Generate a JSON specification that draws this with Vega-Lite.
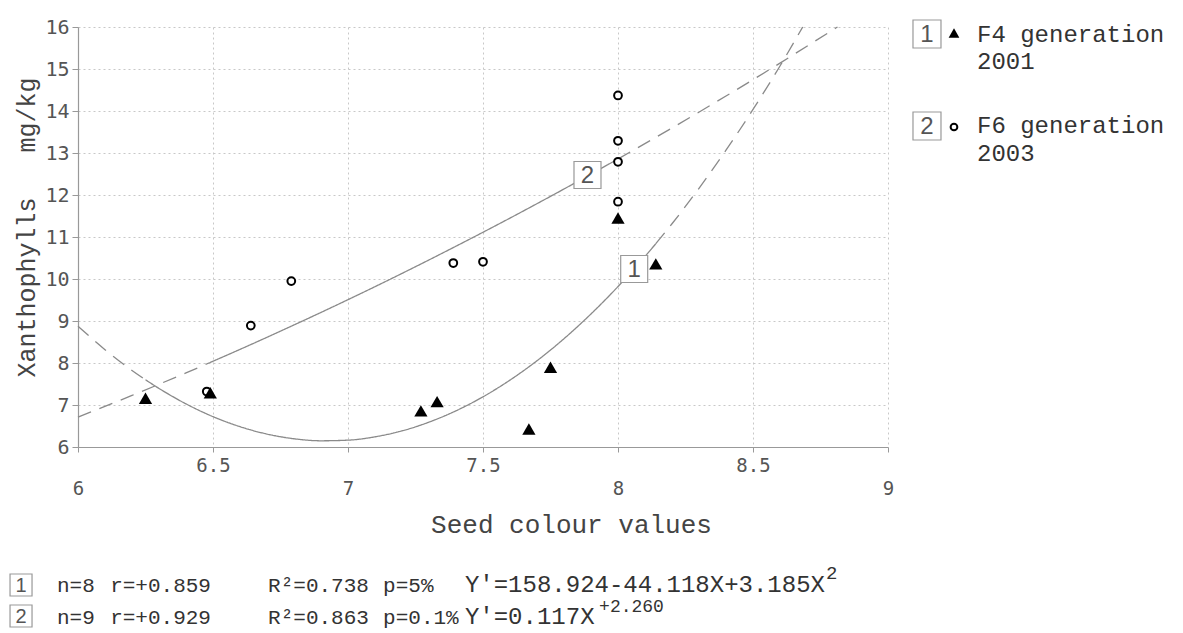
{
  "$schema": "https://vega.github.io/schema/vega-lite/v6.json",
  "width": 810,
  "height": 420,
  "autosize": {"type": "none"},
  "padding": {"left": 78, "top": 27, "right": 295, "bottom": 186},
  "background": "white",
  "config": {"view": {"stroke": null}, "font": "Liberation Mono", "text": {"font": "Liberation Mono"}},
  "datasets": {
    "points": [
      {"gen": "F4", "x": 6.25, "y": 7.16},
      {"gen": "F4", "x": 6.49, "y": 7.29},
      {"gen": "F4", "x": 7.27, "y": 6.86},
      {"gen": "F4", "x": 7.33, "y": 7.08},
      {"gen": "F4", "x": 7.67, "y": 6.43},
      {"gen": "F4", "x": 7.75, "y": 7.9},
      {"gen": "F4", "x": 8.0, "y": 11.45},
      {"gen": "F4", "x": 8.14, "y": 10.36},
      {"gen": "F6", "x": 6.477, "y": 7.32},
      {"gen": "F6", "x": 6.64, "y": 8.89},
      {"gen": "F6", "x": 6.79, "y": 9.95},
      {"gen": "F6", "x": 7.39, "y": 10.38},
      {"gen": "F6", "x": 7.5, "y": 10.41},
      {"gen": "F6", "x": 8.0, "y": 11.84},
      {"gen": "F6", "x": 8.0, "y": 12.79},
      {"gen": "F6", "x": 8.0, "y": 13.29},
      {"gen": "F6", "x": 8.0, "y": 14.37}
    ],
    "curves": [
      {"seg": "1a", "style": "dashed", "x": 6.0, "y": 8.876},
      {"seg": "1a", "style": "dashed", "x": 6.1, "y": 8.318},
      {"seg": "1a", "style": "dashed", "x": 6.2, "y": 7.823},
      {"seg": "1a", "style": "dashed", "x": 6.25, "y": 7.6005},
      {"seg": "1b", "style": "solid", "x": 6.25, "y": 7.6005},
      {"seg": "1b", "style": "solid", "x": 6.3, "y": 7.394},
      {"seg": "1b", "style": "solid", "x": 6.4, "y": 7.027},
      {"seg": "1b", "style": "solid", "x": 6.5, "y": 6.723},
      {"seg": "1b", "style": "solid", "x": 6.6, "y": 6.484},
      {"seg": "1b", "style": "solid", "x": 6.7, "y": 6.308},
      {"seg": "1b", "style": "solid", "x": 6.8, "y": 6.196},
      {"seg": "1b", "style": "solid", "x": 6.9, "y": 6.148},
      {"seg": "1b", "style": "solid", "x": 7.0, "y": 6.163},
      {"seg": "1b", "style": "solid", "x": 7.1, "y": 6.242},
      {"seg": "1b", "style": "solid", "x": 7.2, "y": 6.384},
      {"seg": "1b", "style": "solid", "x": 7.3, "y": 6.592},
      {"seg": "1b", "style": "solid", "x": 7.4, "y": 6.862},
      {"seg": "1b", "style": "solid", "x": 7.5, "y": 7.195},
      {"seg": "1b", "style": "solid", "x": 7.6, "y": 7.593},
      {"seg": "1b", "style": "solid", "x": 7.7, "y": 8.054},
      {"seg": "1b", "style": "solid", "x": 7.8, "y": 8.579},
      {"seg": "1b", "style": "solid", "x": 7.9, "y": 9.168},
      {"seg": "1b", "style": "solid", "x": 8.0, "y": 9.82},
      {"seg": "1b", "style": "solid", "x": 8.1, "y": 10.536},
      {"seg": "1b", "style": "solid", "x": 8.14, "y": 10.84},
      {"seg": "1c", "style": "dashed", "x": 8.14, "y": 10.84},
      {"seg": "1c", "style": "dashed", "x": 8.2, "y": 11.315},
      {"seg": "1c", "style": "dashed", "x": 8.3, "y": 12.16},
      {"seg": "1c", "style": "dashed", "x": 8.4, "y": 13.067},
      {"seg": "1c", "style": "dashed", "x": 8.5, "y": 14.037},
      {"seg": "1c", "style": "dashed", "x": 8.6, "y": 15.072},
      {"seg": "1c", "style": "dashed", "x": 8.684, "y": 16.0},
      {"seg": "2a", "style": "dashed", "x": 6.0, "y": 6.711},
      {"seg": "2a", "style": "dashed", "x": 6.2, "y": 7.228},
      {"seg": "2a", "style": "dashed", "x": 6.4, "y": 7.765},
      {"seg": "2a", "style": "dashed", "x": 6.477, "y": 7.978},
      {"seg": "2b", "style": "solid", "x": 6.477, "y": 7.978},
      {"seg": "2b", "style": "solid", "x": 6.6, "y": 8.324},
      {"seg": "2b", "style": "solid", "x": 6.8, "y": 8.906},
      {"seg": "2b", "style": "solid", "x": 7.0, "y": 9.508},
      {"seg": "2b", "style": "solid", "x": 7.2, "y": 10.133},
      {"seg": "2b", "style": "solid", "x": 7.4, "y": 10.781},
      {"seg": "2b", "style": "solid", "x": 7.6, "y": 11.45},
      {"seg": "2b", "style": "solid", "x": 7.8, "y": 12.143},
      {"seg": "2b", "style": "solid", "x": 8.0, "y": 12.858},
      {"seg": "2c", "style": "dashed", "x": 8.0, "y": 12.858},
      {"seg": "2c", "style": "dashed", "x": 8.2, "y": 13.596},
      {"seg": "2c", "style": "dashed", "x": 8.4, "y": 14.357},
      {"seg": "2c", "style": "dashed", "x": 8.6, "y": 15.141},
      {"seg": "2c", "style": "dashed", "x": 8.8, "y": 15.948},
      {"seg": "2c", "style": "dashed", "x": 8.813, "y": 16.0}
    ],
    "series": [
      {"series": "1", "label": "F4 generation", "year": "2001", "n": "n=8", "r": "r=+0.859", "R2": "R²=0.738", "p": "p=5%", "eq": "Y'=158.924-44.118X+3.185X", "sup": "2"},
      {"series": "2", "label": "F6 generation", "year": "2003", "n": "n=9", "r": "r=+0.929", "R2": "R²=0.863", "p": "p=0.1%", "eq": "Y'=0.117X", "sup": "+2.260"}
    ]
  },
  "layer": [
    {
      "data": {"name": "curves"},
      "mark": {"type": "line", "stroke": "#8a8a8a", "strokeWidth": 1.3, "interpolate": "monotone"},
      "encoding": {
        "x": {
          "field": "x", "type": "quantitative",
          "scale": {"domain": [6, 9], "nice": false, "zero": false},
          "axis": {
            "title": "Seed colour values",
            "values": [6, 6.5, 7, 7.5, 8, 8.5, 9],
            "format": "~g",
            "labelExpr": "datum.value % 1 === 0 ? ['', datum.label] : datum.label",
            "labelLineHeight": 23,
            "labelFont": "DejaVu Sans Mono", "labelFontSize": 19, "labelColor": "#555",
            "labelPadding": 4, "labelBaseline": "top", "labelFlush": false, "labelOverlap": false, "labelBound": false,
            "tickSize": 5, "tickColor": "#999", "domainColor": "#999", "domainWidth": 1.2,
            "grid": true, "gridColor": "#c8c8c8", "gridDash": [2, 3], "gridWidth": 1,
            "titleFont": "Liberation Mono", "titleFontSize": 26, "titleFontWeight": "normal", "titleColor": "#444",
            "titleX": 493, "titleY": 85, "titleAlign": "center", "titleBaseline": "alphabetic"
          }
        },
        "y": {
          "field": "y", "type": "quantitative",
          "scale": {"domain": [6, 16], "nice": false, "zero": false},
          "axis": {
            "title": "Xanthophylls\u00a0\u00a0\u00a0mg/kg",
            "values": [6, 7, 8, 9, 10, 11, 12, 13, 14, 15, 16],
            "labelFont": "DejaVu Sans Mono", "labelFontSize": 20, "labelColor": "#555",
            "labelPadding": 3, "tickSize": 6, "tickColor": "#999", "domainColor": "#999", "domainWidth": 1.2,
            "grid": true, "gridColor": "#c8c8c8", "gridDash": [2, 3], "gridWidth": 1,
            "titleFont": "Liberation Mono", "titleFontSize": 25, "titleFontWeight": "normal", "titleColor": "#444",
            "titleX": -52, "titleY": 200, "titleAngle": 270, "titleAlign": "center", "titleBaseline": "middle"
          }
        },
        "detail": {"field": "seg"},
        "strokeDash": {"field": "style", "type": "nominal", "scale": {"domain": ["solid", "dashed"], "range": [[1, 0], [14, 9]]}, "legend": null}
      }
    },
    {
      "data": {"name": "series"},
      "transform": [{"filter": "datum.series === '2'"}],
      "encoding": {"x": {"datum": 7.887}, "y": {"datum": 12.476}},
      "layer": [
        {"mark": {"type": "square", "size": 729, "fill": "white", "stroke": "#999", "strokeWidth": 1.2, "opacity": 1}},
        {"mark": {"type": "text", "font": "Liberation Sans", "fontSize": 24, "color": "#555", "align": "center", "baseline": "middle", "dy": 1}, "encoding": {"text": {"field": "series"}}}
      ]
    },
    {
      "data": {"name": "series"},
      "transform": [{"filter": "datum.series === '1'"}],
      "encoding": {"x": {"datum": 8.06}, "y": {"datum": 10.238}},
      "layer": [
        {"mark": {"type": "square", "size": 729, "fill": "white", "stroke": "#999", "strokeWidth": 1.2, "opacity": 1}},
        {"mark": {"type": "text", "font": "Liberation Sans", "fontSize": 24, "color": "#555", "align": "center", "baseline": "middle", "dy": 1}, "encoding": {"text": {"field": "series"}}}
      ]
    },
    {
      "data": {"name": "points"},
      "transform": [{"filter": "datum.gen === 'F6'"}],
      "mark": {"type": "point", "shape": "circle", "filled": false, "fill": "white", "stroke": "black", "strokeWidth": 2, "size": 60, "opacity": 1},
      "encoding": {"x": {"field": "x", "type": "quantitative"}, "y": {"field": "y", "type": "quantitative"}}
    },
    {
      "data": {"name": "points"},
      "transform": [{"filter": "datum.gen === 'F4'"}],
      "mark": {"type": "point", "shape": "triangle-up", "filled": true, "color": "black", "size": 175, "opacity": 1},
      "encoding": {"x": {"field": "x", "type": "quantitative"}, "y": {"field": "y", "type": "quantitative"}}
    },
    {
      "data": {"name": "series"},
      "transform": [{"filter": "datum.series === '1'"}],
      "layer": [
        {"mark": {"type": "square", "size": 784, "fill": "white", "stroke": "#999", "strokeWidth": 1.2, "opacity": 1}, "encoding": {"x": {"datum": 9.1444}, "y": {"datum": 15.833}}},
        {"mark": {"type": "text", "font": "Liberation Sans", "fontSize": 24, "color": "#555", "align": "center", "baseline": "middle", "dy": 1}, "encoding": {"x": {"datum": 9.1444}, "y": {"datum": 15.833}, "text": {"field": "series"}}},
        {"mark": {"type": "point", "shape": "triangle-up", "filled": true, "color": "black", "size": 115, "opacity": 1}, "encoding": {"x": {"datum": 9.2444}, "y": {"datum": 15.857}}},
        {"mark": {"type": "text", "font": "Liberation Mono", "fontSize": 24, "color": "#333", "align": "left", "baseline": "alphabetic"}, "encoding": {"x": {"datum": 9.3296}, "y": {"datum": 15.643}, "text": {"field": "label"}}},
        {"mark": {"type": "text", "font": "Liberation Mono", "fontSize": 24, "color": "#333", "align": "left", "baseline": "alphabetic"}, "encoding": {"x": {"datum": 9.3296}, "y": {"datum": 15.0}, "text": {"field": "year"}}}
      ]
    },
    {
      "data": {"name": "series"},
      "transform": [{"filter": "datum.series === '2'"}],
      "layer": [
        {"mark": {"type": "square", "size": 784, "fill": "white", "stroke": "#999", "strokeWidth": 1.2, "opacity": 1}, "encoding": {"x": {"datum": 9.1444}, "y": {"datum": 13.643}}},
        {"mark": {"type": "text", "font": "Liberation Sans", "fontSize": 24, "color": "#555", "align": "center", "baseline": "middle", "dy": 1}, "encoding": {"x": {"datum": 9.1444}, "y": {"datum": 13.643}, "text": {"field": "series"}}},
        {"mark": {"type": "point", "shape": "circle", "filled": false, "fill": "white", "stroke": "black", "strokeWidth": 2, "size": 45, "opacity": 1}, "encoding": {"x": {"datum": 9.2444}, "y": {"datum": 13.619}}},
        {"mark": {"type": "text", "font": "Liberation Mono", "fontSize": 24, "color": "#333", "align": "left", "baseline": "alphabetic"}, "encoding": {"x": {"datum": 9.3296}, "y": {"datum": 13.476}, "text": {"field": "label"}}},
        {"mark": {"type": "text", "font": "Liberation Mono", "fontSize": 24, "color": "#333", "align": "left", "baseline": "alphabetic"}, "encoding": {"x": {"datum": 9.3296}, "y": {"datum": 12.81}, "text": {"field": "year"}}}
      ]
    },
    {
      "data": {"name": "series"},
      "transform": [{"filter": "datum.series === '1'"}],
      "encoding": {"y": {"datum": 2.548}},
      "layer": [
        {"mark": {"type": "square", "size": 484, "fill": "white", "stroke": "#999", "strokeWidth": 1.2, "opacity": 1}, "encoding": {"x": {"datum": 5.789}, "y": {"datum": 2.714}}},
        {"mark": {"type": "text", "font": "Liberation Sans", "fontSize": 20, "color": "#555", "align": "center", "baseline": "middle", "dy": 1}, "encoding": {"x": {"datum": 5.789}, "y": {"datum": 2.714}, "text": {"field": "series"}}},
        {"mark": {"type": "text", "font": "Liberation Mono", "fontSize": 21, "color": "#333", "align": "left", "baseline": "alphabetic"}, "encoding": {"x": {"datum": 5.922}, "text": {"field": "n"}}},
        {"mark": {"type": "text", "font": "Liberation Mono", "fontSize": 21, "color": "#333", "align": "left", "baseline": "alphabetic"}, "encoding": {"x": {"datum": 6.119}, "text": {"field": "r"}}},
        {"mark": {"type": "text", "font": "Liberation Mono", "fontSize": 21, "color": "#333", "align": "left", "baseline": "alphabetic"}, "encoding": {"x": {"datum": 6.704}, "text": {"field": "R2"}}},
        {"mark": {"type": "text", "font": "Liberation Mono", "fontSize": 21, "color": "#333", "align": "left", "baseline": "alphabetic"}, "encoding": {"x": {"datum": 7.13}, "text": {"field": "p"}}},
        {"mark": {"type": "text", "font": "Liberation Mono", "fontSize": 24, "color": "#333", "align": "left", "baseline": "alphabetic"}, "encoding": {"x": {"datum": 7.433}, "text": {"field": "eq"}}},
        {"mark": {"type": "text", "font": "Liberation Mono", "fontSize": 19, "color": "#333", "align": "left", "baseline": "alphabetic"}, "encoding": {"x": {"datum": 8.77}, "y": {"datum": 2.857}, "text": {"field": "sup"}}}
      ]
    },
    {
      "data": {"name": "series"},
      "transform": [{"filter": "datum.series === '2'"}],
      "encoding": {"y": {"datum": 1.786}},
      "layer": [
        {"mark": {"type": "square", "size": 484, "fill": "white", "stroke": "#999", "strokeWidth": 1.2, "opacity": 1}, "encoding": {"x": {"datum": 5.789}, "y": {"datum": 1.976}}},
        {"mark": {"type": "text", "font": "Liberation Sans", "fontSize": 20, "color": "#555", "align": "center", "baseline": "middle", "dy": 1}, "encoding": {"x": {"datum": 5.789}, "y": {"datum": 1.976}, "text": {"field": "series"}}},
        {"mark": {"type": "text", "font": "Liberation Mono", "fontSize": 21, "color": "#333", "align": "left", "baseline": "alphabetic"}, "encoding": {"x": {"datum": 5.922}, "text": {"field": "n"}}},
        {"mark": {"type": "text", "font": "Liberation Mono", "fontSize": 21, "color": "#333", "align": "left", "baseline": "alphabetic"}, "encoding": {"x": {"datum": 6.119}, "text": {"field": "r"}}},
        {"mark": {"type": "text", "font": "Liberation Mono", "fontSize": 21, "color": "#333", "align": "left", "baseline": "alphabetic"}, "encoding": {"x": {"datum": 6.704}, "text": {"field": "R2"}}},
        {"mark": {"type": "text", "font": "Liberation Mono", "fontSize": 21, "color": "#333", "align": "left", "baseline": "alphabetic"}, "encoding": {"x": {"datum": 7.13}, "text": {"field": "p"}}},
        {"mark": {"type": "text", "font": "Liberation Mono", "fontSize": 24, "color": "#333", "align": "left", "baseline": "alphabetic"}, "encoding": {"x": {"datum": 7.433}, "text": {"field": "eq"}}},
        {"mark": {"type": "text", "font": "Liberation Mono", "fontSize": 18, "color": "#333", "align": "left", "baseline": "alphabetic"}, "encoding": {"x": {"datum": 7.93}, "y": {"datum": 2.07}, "text": {"field": "sup"}}}
      ]
    }
  ]
}
